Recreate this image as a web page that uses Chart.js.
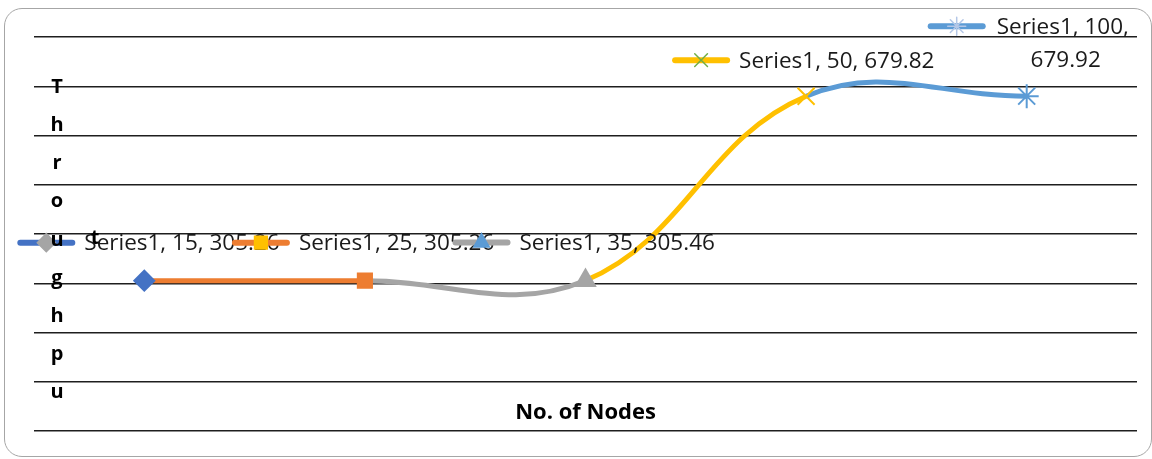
<!DOCTYPE html>
<html>
<head>
<meta charset="utf-8">
<script src="https://cdn.jsdelivr.net/npm/chart.js@4.4.1/dist/chart.umd.min.js"></script>
<style>
  html, body { margin: 0; padding: 0; background: #fff; }
  #wrap { position: relative; width: 1152px; height: 459px; }
  #frame {
    position: absolute; left: 4px; top: 8px; width: 1146px; height: 447px;
    border: 1px solid #a6a6a6; border-radius: 18px; pointer-events: none;
  }
</style>
</head>
<body>
<div id="wrap">
  <canvas id="chart" width="1152" height="459"></canvas>
  <div id="frame"></div>
</div>
<script>
// Data
const nodes = ['15', '25', '35', '50', '100'];
const throughput = [305.26, 305.26, 305.46, 679.82, 679.92];
const yTicks = [0, 100, 200, 300, 400, 500, 600, 700, 800];
const xTitle = 'No. of Nodes';
const yTitle = 'Throughput';

// Excel-ish palette
const c = {
  blue: '#4472c4',
  orange: '#ed7d31',
  grey: '#a5a5a5',
  gold: '#ffc000',
  sky: '#5b9bd5',
  green: '#70ad47',
  pale: '#b4c7e7'
};

// colour of the line leaving each point
const segColors = [c.orange, c.grey, c.gold, c.sky];
const markerStyles = ['rectRot', 'rect', 'triangle', 'crossRot', 'star'];
const markerColors = [c.blue, c.orange, c.grey, c.gold, c.sky];
const markerSizes = [10, 10, 11, 12, 12];

// data label keys: line colour, marker style, marker colour
const keyLines = [c.blue, c.orange, c.grey, c.gold, c.sky];
const keyMarks = [['rectRot', c.grey], ['rect', c.gold], ['triangle', c.sky], ['crossRot', c.green], ['star', c.pale]];
// key offset from its point (x, y)
const keyOffsets = [[-98, -38], [-104, -38], [-104, -38], [-105, -36], [-70, -70]];

const labelFont = '22.5px "Open Sans", sans-serif';
const textColor = '#1a1a1a';

const dataLabels = {
  id: 'dataLabels',
  afterDatasetsDraw(chart) {
    const ctx = chart.ctx;
    const pts = chart.getDatasetMeta(0).data;
    ctx.save();
    ctx.font = labelFont;
    ctx.textBaseline = 'middle';
    pts.forEach((p, i) => {
      const text = 'Series1, ' + nodes[i] + ', ' + throughput[i].toFixed(2);
      const kx = p.x + keyOffsets[i][0];
      const ky = p.y + keyOffsets[i][1];
      // key line
      ctx.strokeStyle = keyLines[i];
      ctx.lineWidth = 6;
      ctx.lineCap = 'round';
      ctx.beginPath();
      ctx.moveTo(kx - 26, ky);
      ctx.lineTo(kx + 26, ky);
      ctx.stroke();
      const mk = keyMarks[i];
      ctx.fillStyle = mk[1];
      ctx.strokeStyle = mk[1];
      ctx.lineWidth = 1.5;
      Chart.helpers.drawPoint(ctx, { pointStyle: mk[0], radius: 9, rotation: 0, borderWidth: 1.5 }, kx, ky);
      ctx.fillStyle = textColor;
      ctx.textAlign = 'left';
      if (i < 4) {
        ctx.fillText(text, kx + 38, ky + 1);
      } else {
        ctx.fillText('Series1, ' + nodes[i] + ',', kx + 40, ky + 1);
        ctx.textAlign = 'center';
        ctx.fillText(throughput[i].toFixed(2), kx + 109, ky + 34);
      }
    });
    ctx.restore();
  }
};

const axisTitles = {
  id: 'axisTitles',
  afterDraw(chart) {
    const ctx = chart.ctx;
    const area = chart.chartArea;
    ctx.save();
    ctx.fillStyle = '#000';
    ctx.font = 'bold 22px "Open Sans", sans-serif';
    ctx.textAlign = 'center';
    ctx.textBaseline = 'middle';
    ctx.fillText(xTitle, (area.left + area.right) / 2, 413);
    ctx.font = 'bold 20px "Open Sans", sans-serif';
    const letters = yTitle.split('');
    letters.slice(0, 9).forEach((ch, i) => {
      ctx.fillText(ch, 57, 87 + i * 38.2);
    });
    ctx.fillText(letters[9], 95, 238);
    ctx.restore();
  }
};

new Chart(document.getElementById('chart'), {
  type: 'line',
  data: {
    labels: nodes,
    datasets: [{
      label: 'Series1',
      data: throughput,
      borderWidth: 5,
      tension: 0.4,
      borderColor: c.orange,
      segment: { borderColor: ctx => segColors[ctx.p0DataIndex] },
      pointStyle: markerStyles,
      pointRadius: markerSizes,
      pointBackgroundColor: markerColors,
      pointBorderColor: markerColors,
      pointBorderWidth: 2
    }]
  },
  options: {
    responsive: false,
    animation: false,
    layout: { padding: { left: 34, top: 37, right: 15, bottom: 20 } },
    plugins: { legend: { display: false }, tooltip: { enabled: false } },
    scales: {
      x: {
        offset: true,
        grid: { display: false },
        border: { display: false },
        ticks: { display: false }
      },
      y: {
        min: yTicks[0],
        max: yTicks[yTicks.length - 1],
        afterBuildTicks: axis => { axis.ticks = yTicks.map(v => ({ value: v })); },
        grid: { color: '#1e1e1e', lineWidth: 1.4, drawTicks: false },
        border: { display: false },
        ticks: { display: false }
      }
    }
  },
  plugins: [dataLabels, axisTitles]
});
</script>
</body>
</html>
